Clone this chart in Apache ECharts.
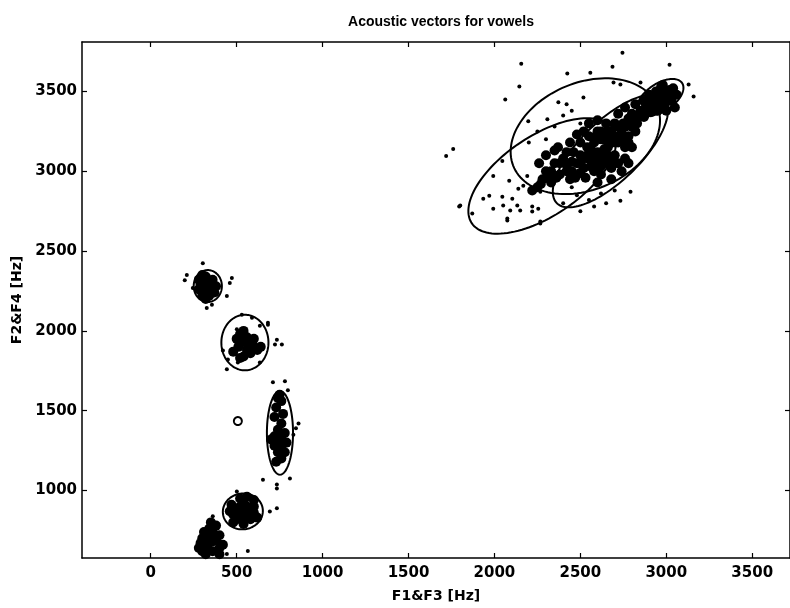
<!DOCTYPE html>
<html><head><meta charset="utf-8">
<script src="https://cdn.jsdelivr.net/npm/echarts@6/dist/echarts.min.js"></script>
<style>html,body{margin:0;padding:0;background:#fff}#c{width:790px;height:608px}</style>
</head><body><div id="c"></div>
<script>
// Tick labels
const xTicks = [0, 500, 1000, 1500, 2000, 2500, 3000, 3500];
const yTicks = [1000, 1500, 2000, 2500, 3000, 3500];

// Upper-right group (front vowels), [F1&F3, F2&F4]
const upperOutliers = [[2745,3743],[2156,3674],[2687,3655],[3019,3668],[2424,3612],[2558,3618],[2850,3556],[2145,3531],[2063,3450],[3130,3544],[3159,3469],[1760,3139],[1719,3096],[1801,2785],[1871,2735],[2075,2692],[2267,2685],[2733,2816],[2792,2872],[2693,3556],[2733,3544],[2372,3432],[2518,3463],[2197,3313],[2308,3326],[1795,2779],
 [2046,3065],[1993,2971],[2086,2940],[1935,2828],[1993,2766],[2046,2841],[2104,2828],[2051,2785],[2133,2785],[2092,2754],[2150,2754],[2220,2779],[2267,2872],[2209,2872],[2168,2909],[2255,2766],[2220,2748],[2075,2704],[2267,2673],[2191,2971],[2139,2890],[1970,2847],
 [2400,3350],[2450,3380],[2500,3300],[2350,3280],[2300,3200],[2250,3250],[2200,3180],[2420,3420],
 [2400,2800],[2480,2850],[2550,2820],[2620,2860],[2500,2750],[2450,2900],[2580,2780],[2700,2880],[2650,2800]];
const upperCore = [[2880,3400],[2900,3430],[2920,3460],[2940,3420],[2960,3480],[2980,3450],[3000,3500],[3020,3470],[3040,3520],[2950,3380],[2990,3410],[3030,3440],[3060,3480],[2910,3370],[2970,3530],[2870,3440],[3050,3400],[2940,3500],[3000,3380],
 [2750,3300],[2780,3330],[2800,3360],[2830,3300],[2850,3380],[2760,3400],[2820,3420],[2870,3340],[2720,3360],[2800,3280],
 [2450,3000],[2480,3050],[2500,3100],[2520,3020],[2540,3150],[2560,3080],[2580,3000],[2600,3120],[2620,3200],[2640,3050],[2660,3150],[2680,3250],[2700,3100],[2720,3180],[2740,3240],[2760,3150],[2780,3220],[2600,3250],[2550,3220],[2650,3300],[2700,3300],[2620,2980],[2680,3020],[2720,3050],[2580,3180],[2500,3180],[2460,3120],[2530,2960],[2600,3060],[2660,3100],[2700,3180],[2640,3200],[2560,3140],[2760,3080],[2800,3150],[2820,3250],[2740,3000],[2780,3050],[2600,2930],[2680,2950],[2520,3250],[2480,3230],[2440,3180],[2600,3320],[2550,3300],
 [2500,3050],[2540,3080],[2580,3100],[2620,3100],[2660,3200],[2700,3220],[2740,3200],[2700,3050],[2640,3140],[2580,3050],[2620,3250],[2680,3180],[2760,3280],[2720,3280],[2560,3030],[2620,3030],[2660,3060],[2540,3100],[2590,3220],[2660,3250],[2780,3180],[2800,3320],[2840,3350],[2880,3360],[2900,3480],[2930,3400],[2960,3430],[3000,3440],[3020,3510],[2980,3540],[2940,3450],
 [2250,2900],[2280,2950],[2300,3000],[2330,2930],[2350,3050],[2380,2980],[2400,3080],[2420,3000],[2440,2950],[2300,3100],[2350,3130],[2260,3050],[2220,2880],[2370,3150],[2420,3120],[2450,3060],[2380,3050],[2330,3000],[2310,2960],[2270,2920],[2360,2960],[2420,3040],[2470,2960],[2500,2990]];

// Lower-left clusters (back vowels): dense cores and scattered points
const coreA = [[280,2260],[300,2300],[320,2240],[340,2280],[360,2320],[300,2220],[340,2220],[360,2260],[320,2340],[280,2320],[380,2280],[310,2270],[350,2250],[330,2310],[290,2290],[370,2240],[320,2200],[300,2350]];
const sparseA = [[303,2424],[210,2350],[198,2318],[245,2269],[472,2331],[460,2300],[443,2219],[326,2144],[356,2163]];
const coreB = [[500,1950],[520,1980],[540,2000],[560,1960],[580,1930],[600,1900],[620,1880],[560,1880],[540,1840],[580,1860],[510,1900],[480,1870],[600,1950],[640,1900],[520,1830],[560,1920],[530,1940],[590,1890]];
const sparseB = [[530,2101],[589,2082],[635,2032],[682,2051],[734,1945],[723,1914],[420,1877],[449,1821],[507,1802],[635,1802],[443,1759],[501,2010],[763,1914],[682,2039]];
const coreC = [[740,1580],[750,1600],[760,1560],[730,1520],[770,1480],[720,1460],[760,1420],[740,1380],[720,1340],[760,1340],[780,1360],[740,1300],[720,1280],[760,1280],[740,1240],[760,1200],[730,1180],[780,1240],[700,1320],[790,1300]];
const sparseC = [[711,1678],[781,1684],[798,1628],[830,1350],[845,1390],[860,1420],[653,1068],[734,1037],[810,1075]];
const coreD = [[480,850],[500,880],[520,900],[540,920],[560,900],[580,880],[600,860],[560,840],[520,820],[480,800],[500,830],[540,860],[580,820],[600,900],[460,870],[520,950],[560,960],[540,790],[600,940],[470,910],[620,830]];
const sparseD = [[734,1012],[501,994],[734,888],[693,869],[361,838],[565,621]];
const coreE = [[300,620],[320,660],[340,700],[360,740],[380,780],[320,600],[360,620],[400,640],[340,760],[300,700],[380,690],[420,660],[350,800],[310,740],[280,640],[400,600],[330,640],[360,680],[290,670],[400,720]];
const sparseE = [[443,602]];

// Gaussian ellipses: [centre x, centre y, semi-axis a, semi-axis b, angle deg]
const ellipses = [
 [2279,2971,507,244,37],
 [2529,3220,460,330,28],
 [2675,3127,452,181,47],
 [2966,3463,155,85,37],
 [332,2281,82,100,0],
 [548,1927,137,174,0],
 [752,1361,76,262,0],
 [507,1435,23,25,0],
 [536,869,117,112,20]
];

const FONT = 'DejaVu Sans, Verdana, sans-serif';
const corePoints = [].concat(upperCore, coreA, coreB, coreC, coreD, coreE);
const sparsePoints = [].concat(upperOutliers, sparseA, sparseB, sparseC, sparseD, sparseE);

const chart = echarts.init(document.getElementById('c'), null, {renderer:'canvas'});
const axisCommon = {
  axisLine:{show:true,onZero:false,lineStyle:{color:'#000',width:1.5}},
  axisTick:{show:true,inside:true,length:5,lineStyle:{color:'#000',width:1.2}},
  splitLine:{show:false}
};
const fmt = v => String(v);
const labelStyle = {fontFamily:FONT,fontSize:15,fontWeight:'bold',color:'#000'};
const nameStyle = {fontFamily:FONT,fontSize:14,fontWeight:'bold',color:'#000'};
chart.setOption({
  animation:false,
  backgroundColor:'#fff',
  title:{text:'Acoustic vectors for vowels',left:436,top:10,textAlign:'center',
    textStyle:{fontFamily:'Liberation Sans, Arial, sans-serif',fontSize:14,fontWeight:'bold',color:'#000'}},
  grid:{left:82,right:0,top:42,bottom:46,containLabel:false},
  xAxis:[
    Object.assign({type:'value',position:'bottom',min:-400,max:3720,
      name:'F1&F3 [Hz]',nameLocation:'middle',nameGap:31,nameTextStyle:nameStyle,
      axisLabel:Object.assign({customValues:xTicks,formatter:fmt,margin:8},labelStyle)},
      axisCommon,{axisTick:Object.assign({},axisCommon.axisTick,{customValues:xTicks})}),
    Object.assign({type:'value',position:'top',min:-400,max:3720,axisLabel:{show:false}},
      axisCommon,{axisTick:Object.assign({},axisCommon.axisTick,{customValues:xTicks})})
  ],
  yAxis:[
    Object.assign({type:'value',position:'left',min:577,max:3810,
      name:'F2&F4 [Hz]',nameLocation:'middle',nameGap:57,nameRotate:90,nameTextStyle:nameStyle,
      axisLabel:Object.assign({customValues:yTicks,formatter:fmt,margin:5},labelStyle)},
      axisCommon,{axisTick:Object.assign({},axisCommon.axisTick,{customValues:yTicks})}),
    Object.assign({type:'value',position:'right',min:577,max:3810,axisLabel:{show:false}},
      axisCommon,{axisTick:Object.assign({},axisCommon.axisTick,{customValues:yTicks})})
  ],
  series:[
    {type:'custom',xAxisIndex:0,yAxisIndex:0,data:ellipses,encode:{x:0,y:1},silent:true,z:3,
      renderItem:function(params, api){
        const cx=api.value(0), cy=api.value(1), a=api.value(2), b=api.value(3), ang=api.value(4)*Math.PI/180;
        const pts=[];
        for(let i=0;i<120;i++){
          const t=i/120*Math.PI*2;
          const dx=a*Math.cos(t)*Math.cos(ang)-b*Math.sin(t)*Math.sin(ang);
          const dy=a*Math.cos(t)*Math.sin(ang)+b*Math.sin(t)*Math.cos(ang);
          pts.push(api.coord([cx+dx, cy+dy]));
        }
        return {type:'polygon',shape:{points:pts},style:{fill:null,stroke:'#000',lineWidth:2}};
      },
      clip:true},
    {type:'scatter',xAxisIndex:0,yAxisIndex:0,data:sparsePoints,symbol:'circle',symbolSize:4,z:2,
      itemStyle:{color:'#000',opacity:1},emphasis:{disabled:true},silent:true},
    {type:'scatter',xAxisIndex:0,yAxisIndex:0,data:corePoints,symbol:'circle',symbolSize:10,z:4,
      itemStyle:{color:'#000',opacity:1},emphasis:{disabled:true},silent:true}
  ]
});
</script></body></html>
